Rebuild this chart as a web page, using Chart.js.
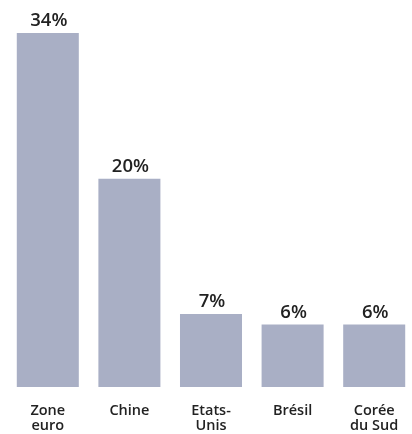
<!DOCTYPE html>
<html>
<head>
<meta charset="utf-8">
<script src="https://cdn.jsdelivr.net/npm/chart.js@4/dist/chart.umd.min.js"></script>
<style>
  html, body { margin: 0; padding: 0; background: #fff; overflow: hidden; }
  #wrap { width: 412px; height: 434px; overflow: hidden; position: relative; }
  #c { position: absolute; left: 0; top: 0; }
</style>
</head>
<body>
<div id="wrap"><canvas id="c" width="416" height="434"></canvas></div>
<script>
const categories = [['Zone', 'euro'], 'Chine', ['Etats-', 'Unis'], 'Brésil', ['Corée', 'du Sud']];
const shares = [34, 20, 7, 6, 6];

const FONT = '"Open Sans", "Noto Sans", sans-serif';
const TEXT = '#222222';

// Percentage printed above each bar
const valueLabels = {
  id: 'valueLabels',
  afterDatasetsDraw(chart) {
    const ctx = chart.ctx;
    const meta = chart.getDatasetMeta(0);
    ctx.save();
    ctx.font = '600 18.5px ' + FONT;
    ctx.fillStyle = TEXT;
    ctx.textAlign = 'center';
    ctx.textBaseline = 'alphabetic';
    meta.data.forEach((bar, i) => {
      ctx.fillText(shares[i] + '%', bar.x + 1, bar.y - 7);
    });
    ctx.restore();
  }
};

new Chart(document.getElementById('c'), {
  type: 'bar',
  data: {
    labels: categories,
    datasets: [{
      data: shares,
      backgroundColor: '#a9afc5',
      borderWidth: 0,
      barPercentage: 0.76,
      categoryPercentage: 1
    }]
  },
  options: {
    responsive: false,
    animation: false,
    events: [],
    layout: { padding: { top: 33, left: 7, right: 1, bottom: 0 } },
    plugins: { legend: { display: false }, tooltip: { enabled: false } },
    scales: {
      x: {
        grid: { display: false, drawTicks: false },
        border: { display: false },
        ticks: {
          color: TEXT,
          font: { family: FONT, size: 14.5, weight: '600', lineHeight: 1.05 },
          padding: 16,
          maxRotation: 0,
          autoSkip: false
        },
        afterFit(scale) { scale.height = 47; }
      },
      y: {
        display: false,
        min: 0,
        max: 34
      }
    }
  },
  plugins: [valueLabels]
});
</script>
</body>
</html>
